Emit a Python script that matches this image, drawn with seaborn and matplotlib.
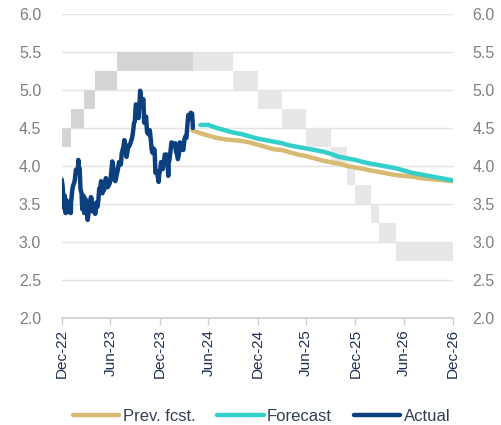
import pandas as pd
import matplotlib
matplotlib.use("Agg")
import matplotlib.pyplot as plt
import matplotlib.dates as mdates
import seaborn as sns

sns.set_theme(style="white")
plt.rcParams["font.family"] = ["Liberation Sans", "DejaVu Sans"]

# policy range (lower bound, 25bp wide) - realised and projected
dark_dates = ["2022-12-31", "2023-02-01", "2023-03-22", "2023-05-03", "2023-07-26", "2024-05-03"]
dark_lower = [4.25, 4.50, 4.75, 5.00, 5.25, 5.25]
light_dates = ["2024-05-03", "2024-09-30", "2024-12-31", "2025-03-31", "2025-06-30", "2025-09-30",
               "2025-11-30", "2025-12-31", "2026-02-28", "2026-03-31", "2026-05-31", "2026-12-31"]
light_lower = [5.25, 5.00, 4.75, 4.50, 4.25, 4.00, 3.75, 3.50, 3.25, 3.00, 2.75, 2.75]

# actual yield
actual_dates = [
    "2022-12-30", "2023-01-03", "2023-01-06", "2023-01-10", "2023-01-13", "2023-01-17", "2023-01-19",
    "2023-01-24", "2023-01-27", "2023-01-31", "2023-02-02", "2023-02-03", "2023-02-07", "2023-02-10",
    "2023-02-14", "2023-02-17", "2023-02-21", "2023-02-24", "2023-02-28", "2023-03-02", "2023-03-03",
    "2023-03-07", "2023-03-10", "2023-03-14", "2023-03-17", "2023-03-21", "2023-03-24", "2023-03-28",
    "2023-03-31", "2023-04-04", "2023-04-06", "2023-04-11", "2023-04-14", "2023-04-18", "2023-04-21",
    "2023-04-25", "2023-04-28", "2023-05-02", "2023-05-04", "2023-05-09", "2023-05-12", "2023-05-16",
    "2023-05-19", "2023-05-23", "2023-05-26", "2023-05-31", "2023-06-02", "2023-06-06", "2023-06-09",
    "2023-06-13", "2023-06-16", "2023-06-20", "2023-06-23", "2023-06-27", "2023-06-30", "2023-07-06",
    "2023-07-07", "2023-07-11", "2023-07-14", "2023-07-18", "2023-07-21", "2023-07-25", "2023-07-28",
    "2023-08-01", "2023-08-04", "2023-08-08", "2023-08-11", "2023-08-15", "2023-08-18", "2023-08-21",
    "2023-08-25", "2023-08-29", "2023-09-01", "2023-09-05", "2023-09-08", "2023-09-12", "2023-09-15",
    "2023-09-19", "2023-09-22", "2023-09-26", "2023-09-29", "2023-10-03", "2023-10-06", "2023-10-10",
    "2023-10-13", "2023-10-17", "2023-10-19", "2023-10-24", "2023-10-27", "2023-10-31", "2023-11-03",
    "2023-11-07", "2023-11-10", "2023-11-14", "2023-11-17", "2023-11-21", "2023-11-24", "2023-11-28",
    "2023-12-01", "2023-12-05", "2023-12-08", "2023-12-12", "2023-12-15", "2023-12-19", "2023-12-22",
    "2023-12-27", "2023-12-29", "2024-01-02", "2024-01-05", "2024-01-09", "2024-01-12", "2024-01-17",
    "2024-01-19", "2024-01-23", "2024-01-26", "2024-01-30", "2024-02-01", "2024-02-02", "2024-02-06",
    "2024-02-09", "2024-02-13", "2024-02-16", "2024-02-20", "2024-02-23", "2024-02-27", "2024-03-01",
    "2024-03-05", "2024-03-08", "2024-03-12", "2024-03-15", "2024-03-19", "2024-03-22", "2024-03-26",
    "2024-03-28", "2024-04-02", "2024-04-05", "2024-04-09", "2024-04-12", "2024-04-16", "2024-04-19",
    "2024-04-23", "2024-04-25", "2024-04-30", "2024-05-02", "2024-05-03",
]
actual_vals = [
    3.82, 3.71, 3.45, 3.61, 3.38, 3.55, 3.39,
    3.46, 3.52, 3.43, 3.38, 3.53, 3.67, 3.74,
    3.77, 3.82, 3.95, 3.95, 3.92, 4.08, 3.97,
    3.97, 3.70, 3.64, 3.43, 3.61, 3.38, 3.57,
    3.48, 3.35, 3.29, 3.43, 3.52, 3.59, 3.57,
    3.40, 3.44, 3.44, 3.37, 3.52, 3.46, 3.55,
    3.70, 3.71, 3.80, 3.64, 3.69, 3.68, 3.75,
    3.84, 3.77, 3.72, 3.74, 3.77, 3.81, 4.03,
    4.06, 3.97, 3.83, 3.80, 3.84, 3.91, 3.96,
    4.05, 4.05, 4.02, 4.16, 4.22, 4.26, 4.34,
    4.25, 4.12, 4.18, 4.27, 4.26, 4.29, 4.33,
    4.37, 4.44, 4.56, 4.59, 4.81, 4.80, 4.66,
    4.63, 4.85, 4.99, 4.84, 4.84, 4.88, 4.57,
    4.58, 4.65, 4.44, 4.44, 4.41, 4.47, 4.34,
    4.22, 4.17, 4.23, 4.21, 3.91, 3.93, 3.90,
    3.79, 3.88, 3.95, 4.05, 4.02, 3.96, 4.10,
    4.15, 4.14, 4.15, 4.06, 3.87, 4.03, 4.09,
    4.18, 4.31, 4.30, 4.27, 4.26, 4.30, 4.19,
    4.15, 4.09, 4.16, 4.31, 4.30, 4.22, 4.23,
    4.21, 4.36, 4.39, 4.37, 4.52, 4.67, 4.62,
    4.62, 4.70, 4.69, 4.58, 4.50,
]

# previous forecast (monthly, Apr-24 .. Dec-26)
prev_dates = pd.date_range("2024-04-30", "2026-12-31", freq="ME")
prev_vals = [4.47, 4.43, 4.40, 4.37, 4.35, 4.34, 4.33, 4.31, 4.28, 4.25, 4.22, 4.21, 4.18, 4.15, 4.13,
             4.10, 4.07, 4.05, 4.03, 4.00, 3.98, 3.96, 3.94, 3.92, 3.90, 3.88, 3.87, 3.86, 3.84, 3.83,
             3.82, 3.81, 3.80]

# new forecast (monthly, May-24 .. Dec-26)
fcst_dates = pd.date_range("2024-05-31", "2026-12-31", freq="ME")
fcst_vals = [4.54, 4.54, 4.50, 4.47, 4.44, 4.42, 4.39, 4.36, 4.34, 4.32, 4.30, 4.27, 4.25, 4.23, 4.21,
             4.19, 4.16, 4.12, 4.10, 4.08, 4.05, 4.03, 4.01, 3.99, 3.97, 3.94, 3.91, 3.89, 3.87, 3.85,
             3.83, 3.81]

df = pd.concat([
    pd.DataFrame({"date": prev_dates, "value": prev_vals, "series": "Prev. fcst."}),
    pd.DataFrame({"date": fcst_dates, "value": fcst_vals, "series": "Forecast"}),
    pd.DataFrame({"date": pd.to_datetime(actual_dates), "value": actual_vals, "series": "Actual"}),
])
palette = {"Prev. fcst.": "#d8bb72", "Forecast": "#34cfcb", "Actual": "#0b3f7d"}

fig = plt.figure(figsize=(5.02, 4.25), dpi=100)
ax = fig.add_axes([0.1235, 0.252, 0.779, 0.715])

dd = pd.to_datetime(dark_dates)
ax.fill_between(dd, dark_lower, [v + 0.25 for v in dark_lower], step="post", color="#d4d4d4", lw=0, zorder=1)
ld = pd.to_datetime(light_dates)
ax.fill_between(ld, light_lower, [v + 0.25 for v in light_lower], step="post", color="#e7e7e7", lw=0, zorder=1)

sns.lineplot(data=df, x="date", y="value", hue="series", palette=palette, linewidth=3.2,
             ax=ax, zorder=3, sort=False)

ax.set_xlim(pd.Timestamp("2022-12-31"), pd.Timestamp("2026-12-31"))
ax.set_ylim(2.0, 6.0)
ax.set_yticks([2.0, 2.5, 3.0, 3.5, 4.0, 4.5, 5.0, 5.5, 6.0])
ax.yaxis.set_major_formatter(plt.FormatStrFormatter("%.1f"))
ax.set_xticks(pd.date_range("2022-12-31", "2026-12-31", freq="6ME"))
ax.xaxis.set_major_formatter(mdates.DateFormatter("%b-%y"))
ax.set_xlabel("")
ax.set_ylabel("")
ax.grid(axis="y", color="#e3e3e3", lw=1, zorder=0)
ax.set_axisbelow(True)
for s in ["left", "right", "top"]:
    ax.spines[s].set_visible(False)
ax.spines["bottom"].set_color("#d0d0d0")
ax.tick_params(axis="x", rotation=90, labelsize=11, colors="#d0d0d0",
               length=5, width=1, direction="out", bottom=True, pad=3)
ax.tick_params(axis="x", labelcolor="#1f2f4f")
ax.tick_params(axis="y", labelsize=11.5, labelcolor="#7f7f7f", length=0, pad=15)

ax2 = ax.twinx()
ax2.set_ylim(ax.get_ylim())
ax2.set_yticks(ax.get_yticks())
ax2.yaxis.set_major_formatter(plt.FormatStrFormatter("%.1f"))
ax2.tick_params(axis="y", labelsize=11.5, labelcolor="#7f7f7f", length=0, pad=14)
for s in ax2.spines.values():
    s.set_visible(False)

ax.legend(loc="upper center", bbox_to_anchor=(0.51, -0.25), ncol=3, frameon=False, fontsize=12,
          handlelength=2.8, handletextpad=0.2, columnspacing=1.3, labelcolor="#333f50")

fig.savefig("out.png", dpi=100)
